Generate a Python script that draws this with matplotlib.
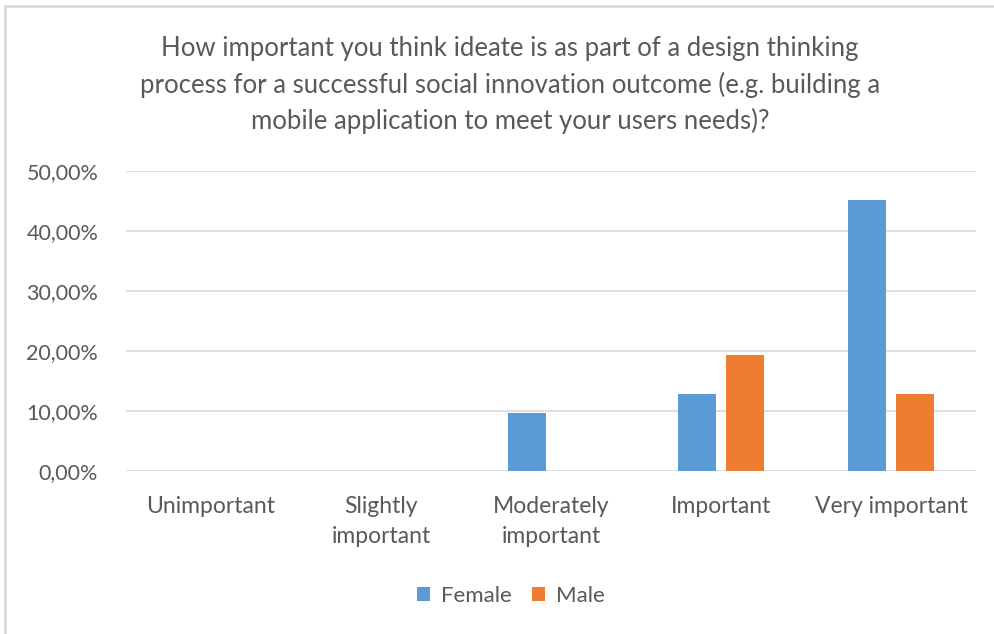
import numpy as np
import matplotlib
matplotlib.use("Agg")
import matplotlib.pyplot as plt
from matplotlib.ticker import FuncFormatter
from matplotlib.patches import Rectangle

categories = ["Unimportant", "Slightly\nimportant", "Moderately\nimportant", "Important", "Very important"]
female = [0.0, 0.0, 9.68, 12.90, 45.16]
male = [0.0, 0.0, 0.0, 19.35, 12.90]
yticks = [0, 10, 20, 30, 40, 50]
title = ("How important you think ideate is as part of a design thinking\n"
         "process for a successful social innovation outcome (e.g. building a\n"
         "mobile application to meet your users needs)?")

plt.rcParams['font.family'] = ['Lato', 'DejaVu Sans']
W, H = 994, 634
fig = plt.figure(figsize=(W / 100, H / 100), dpi=100)

# light frame like an exported Excel chart
fig.patches.append(Rectangle((5 / W, -0.1), 1.2, 1 - 6 / H + 0.1, transform=fig.transFigure,
                             fill=False, edgecolor="#d9d9d9", linewidth=2))

ax = fig.add_axes([126 / W, 1 - 471 / H, 850 / W, 300 / H])
x = np.arange(len(categories))
bw = 0.225
ax.bar(x - 0.139, female, bw, color="#5B9BD5", label="Female", zorder=3)
ax.bar(x + 0.139, male, bw, color="#ED7D31", label="Male", zorder=3)

ax.set_xlim(-0.5, len(categories) - 0.5)
ax.set_ylim(0, 50)
ax.set_yticks(yticks)
ax.yaxis.set_major_formatter(FuncFormatter(lambda v, p: f"{v:.2f}".replace(".", ",") + "%"))
ax.set_xticks(x)
ax.set_xticklabels(categories, linespacing=1.55, fontsize=16.5)
ax.tick_params(axis="both", length=0, colors="#595959")
ax.tick_params(axis="y", pad=20, labelsize=15.5)
ax.tick_params(axis="x", pad=18)
ax.grid(axis="y", color="#d9d9d9", linewidth=1.2, zorder=0)
for s in ax.spines.values():
    s.set_visible(False)

fig.text(510 / W, 1 - 85 / H, title, ha="center", va="center", fontsize=18.5, color="#595959",
         linespacing=1.5)

ax.legend(loc="center", bbox_to_anchor=(511 / W, 1 - 596 / H), bbox_transform=fig.transFigure,
          ncol=2, frameon=False, fontsize=16, labelcolor="#595959", handlelength=0.6,
          handleheight=0.6, handletextpad=0.5, columnspacing=0.9)

fig.savefig("out.png", dpi=100)
